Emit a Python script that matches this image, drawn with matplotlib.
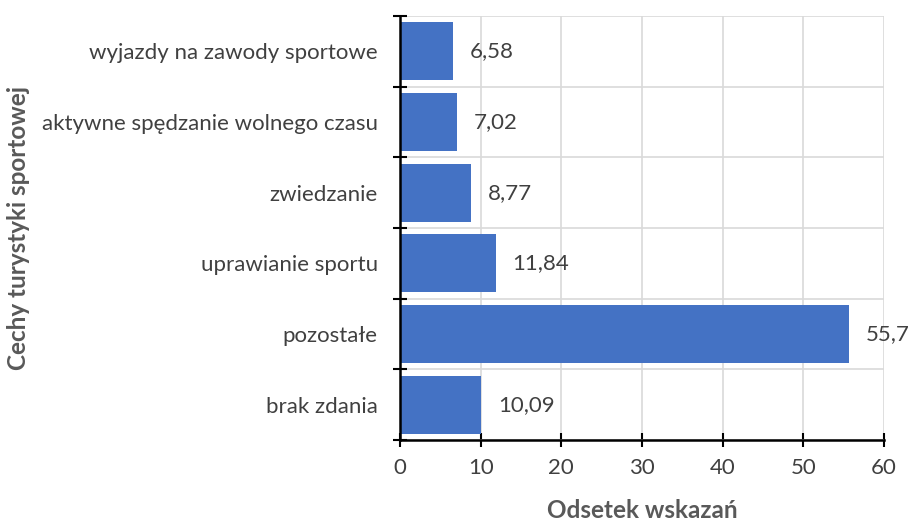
import matplotlib
matplotlib.use("Agg")
import matplotlib.pyplot as plt
import numpy as np

categories = ["brak zdania", "pozostałe", "uprawianie sportu", "zwiedzanie",
              "aktywne spędzanie wolnego czasu", "wyjazdy na zawody sportowe"]
values = [10.09, 55.7, 11.84, 8.77, 7.02, 6.58]
value_labels = ["10,09", "55,7", "11,84", "8,77", "7,02", "6,58"]
x_ticks = [0, 10, 20, 30, 40, 50, 60]

plt.rcParams['font.family'] = ['Lato', 'DejaVu Sans']
txt = '#404040'
fs = 16
fig = plt.figure(figsize=(9.12, 5.24), dpi=100)
ax = fig.add_axes([0.4386, 0.1603, 0.5307, 0.8092])

y = np.arange(len(categories))
ax.barh(y, values, height=0.82, color='#4472C4', zorder=3)
for yi, v, lab in zip(y, values, value_labels):
    ax.annotate(lab, (v, yi), xytext=(12, 0), textcoords='offset points',
                va='center', ha='left', fontsize=fs, color=txt)

ax.set_xlim(0, 60)
ax.set_ylim(-0.5, len(categories) - 0.5)
ax.set_xticks(x_ticks)
ax.set_xticklabels([str(t) for t in x_ticks], fontsize=fs, color=txt)
ax.set_yticks(np.arange(-0.5, len(categories), 1.0))
ax.set_yticklabels([])
ax.set_yticks(y, minor=True)
ax.set_yticklabels(categories, minor=True, fontsize=fs, color=txt)
ax.tick_params(axis='y', which='minor', length=0, pad=16)
ax.tick_params(axis='y', which='major', direction='inout', length=10, width=1.5)
ax.tick_params(axis='x', direction='inout', length=10, width=1.5, pad=8)

ax.grid(True, which='major', color='#d9d9d9', linewidth=1.2, zorder=0)
for s in ['top', 'right']:
    ax.spines[s].set_visible(False)
for s in ['left', 'bottom']:
    ax.spines[s].set_linewidth(1.8)
    ax.spines[s].set_zorder(4)

ax.set_xlabel("Odsetek wskazań", fontsize=17.5, fontweight='bold', color='#595959', labelpad=15)
ax.set_ylabel("Cechy turystyki sportowej", fontsize=17.5, fontweight='bold', color='#595959')
ax.yaxis.set_label_coords(-0.765, 0.5)

fig.savefig("out.png", dpi=100)
